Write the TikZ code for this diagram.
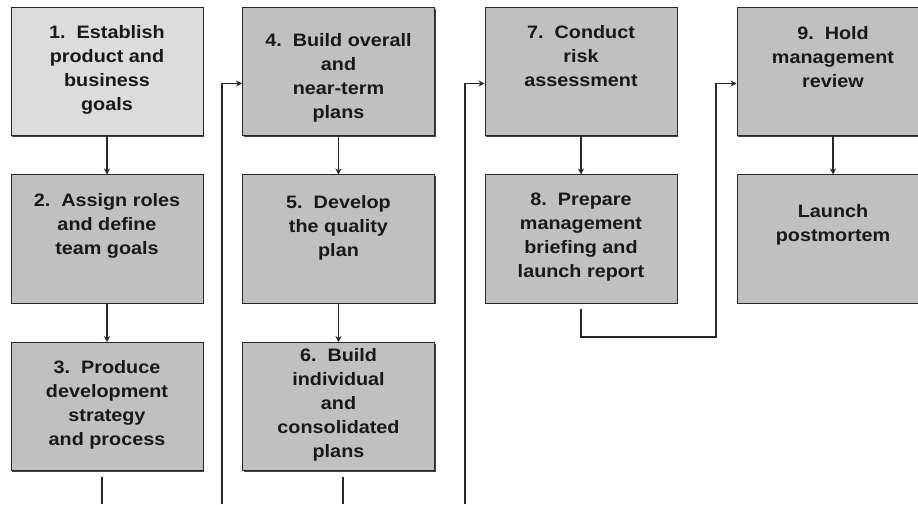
\documentclass[tikz,border=0pt]{standalone}
\usepackage{fontspec}
\newfontfamily\boxfnt{Liberation Sans}[FakeStretch=1.1]
\usetikzlibrary{arrows.meta,shadows,calc}
\definecolor{boxlight}{RGB}{220,220,220}
\definecolor{boxgray}{RGB}{192,192,192}
\definecolor{edge}{RGB}{40,40,40}
\definecolor{txt}{RGB}{25,25,25}
\begin{document}
\begin{tikzpicture}[x=1pt,y=1pt,
  stepbox/.style={rectangle, minimum width=192pt, minimum height=128pt, inner sep=0pt,
    draw=edge, line width=1pt, fill=boxgray,
    general shadow={fill=black!75, shadow xshift=1.3pt, shadow yshift=-1.3pt}},
  firstbox/.style={stepbox, fill=boxlight},
  boxtext/.style={anchor=north, inner sep=0pt, align=center, text=txt,
    font=\boxfnt\bfseries\fontsize{18}{24}\selectfont,
    execute at begin node=\strut},
  link/.style={draw=edge, line width=1.8pt},
  arr/.style={link, -{Stealth[length=6pt,width=6pt]}}]
\useasboundingbox (0,0) rectangle (918,504);
\clip (0,0) rectangle (918,504);
% boxes
\node[firstbox] (b1) at (107,432) {};
\node[stepbox] (b2) at (107,265) {};
\node[stepbox] (b3) at (107,97.5) {};
\node[stepbox] (b4) at (338.5,432) {};
\node[stepbox] (b5) at (338.5,265) {};
\node[stepbox] (b6) at (338.5,97.5) {};
\node[stepbox] (b7) at (581,432) {};
\node[stepbox] (b8) at (581,265) {};
\node[stepbox] (b9) at (833,432) {};
\node[stepbox] (b10) at (833,265) {};
% texts
\node[boxtext] (t1) at ($(b1.north)+(0,-17.7)$) {1.\ \ Establish\\product and\\business\\goals};
\node[boxtext] (t2) at ($(b2.north)+(0,-18.7)$) {2.\ \ Assign roles\\and define\\team goals};
\node[boxtext] (t3) at ($(b3.north)+(0,-18.7)$) {3.\ \ Produce\\development\\strategy\\and process};
\node[boxtext] (t4) at ($(b4.north)+(0,-25.7)$) {4.\ \ Build overall\\and\\near-term\\plans};
\node[boxtext] (t5) at ($(b5.north)+(0,-20.7)$) {5.\ \ Develop\\the quality\\plan};
\node[boxtext] (t6) at ($(b6.north)+(0,-6.7)$) {6.\ \ Build\\individual\\and\\consolidated\\plans};
\node[boxtext] (t7) at ($(b7.north)+(0,-17.7)$) {7.\ \ Conduct\\risk\\assessment};
\node[boxtext] (t8) at ($(b8.north)+(0,-18.7)$) {8.\ \ Prepare\\management\\briefing and\\launch report};
\node[boxtext] (t9) at ($(b9.north)+(0,-18.7)$) {9.\ \ Hold\\management\\review};
\node[boxtext] (t10) at ($(b10.north)+(0,-29.7)$) {Launch\\postmortem};
% free ends and bends
\coordinate (e3) at (102,0);
\coordinate (e6) at (343,0);
\coordinate (l1) at (222,0);
\coordinate (l2) at (465,0);
\coordinate (in4) at ($(b4.north west)+(0,-76)$);
\coordinate (in7) at ($(b7.north west)+(0,-76)$);
\coordinate (in9) at ($(b9.north west)+(0,-76)$);
\coordinate (bend8) at (716,167);
% connectors
\draw[arr] (b1.south) -- (b2.north);
\draw[arr] (b2.south) -- (b3.north);
\draw[link] ($(b3.south)+(-5,-6)$) -- (e3);
\draw[arr] (l1) |- (in4);
\draw[arr] (b4.south) -- (b5.north);
\draw[arr] (b5.south) -- (b6.north);
\draw[link] ($(b6.south)+(4.5,-6)$) -- (e6);
\draw[arr] (l2) |- (in7);
\draw[arr] (b7.south) -- (b8.north);
\draw[arr] ($(b8.south)+(0,-5)$) |- (bend8) |- (in9);
\draw[arr] (b9.south) -- (b10.north);
\end{tikzpicture}
\end{document}
